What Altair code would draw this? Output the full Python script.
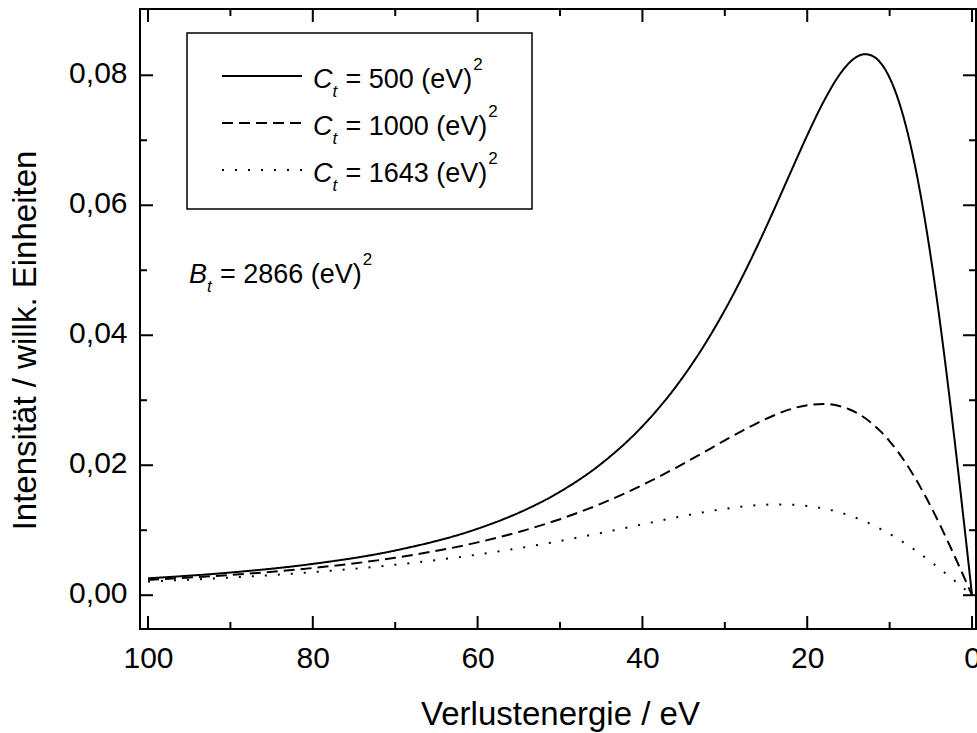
import altair as alt
import pandas as pd

# ---- data ----
energy = [0, 1, 2, 3, 4, 5, 6, 7, 8, 9, 10, 11, 12, 13, 14, 15, 16, 18, 20, 22, 24,
          26, 28, 30, 33, 36, 40, 45, 50, 55, 60, 70, 80, 90, 100]
c500 = [0.0, 0.011418, 0.022565, 0.033186, 0.043056, 0.051991, 0.059855, 0.066562,
        0.072079, 0.076413, 0.079611, 0.081750, 0.082925, 0.083247, 0.082830, 0.081788,
        0.080233, 0.075979, 0.070765, 0.065119, 0.059411, 0.053881, 0.048675, 0.043867,
        0.037458, 0.031986, 0.025995, 0.020229, 0.015922, 0.012686, 0.010230, 0.006880,
        0.004816, 0.003488, 0.002600]
c1000 = [0.0, 0.002860, 0.005686, 0.008445, 0.011106, 0.013639, 0.016022, 0.018232,
         0.020253, 0.022073, 0.023686, 0.025087, 0.026279, 0.027264, 0.028051, 0.028648,
         0.029068, 0.029429, 0.029245, 0.028631, 0.027693, 0.026528, 0.025214, 0.023817,
         0.021673, 0.019572, 0.016959, 0.014094, 0.011698, 0.009730, 0.008127, 0.005763,
         0.004187, 0.003115, 0.002369]
c1643 = [0.0, 0.001060, 0.002113, 0.003150, 0.004165, 0.005151, 0.006100, 0.007008,
         0.007869, 0.008678, 0.009434, 0.010131, 0.010770, 0.011348, 0.011864, 0.012320,
         0.012716, 0.013333, 0.013733, 0.013937, 0.013969, 0.013856, 0.013624, 0.013295,
         0.012672, 0.011945, 0.010900, 0.009586, 0.008349, 0.007234, 0.006256, 0.004686,
         0.003544, 0.002717, 0.002114]
series_names = ["500", "1000", "1643"]
legend_texts = ["= 500 (eV)", "= 1000 (eV)", "= 1643 (eV)"]
annot_text = "= 2866 (eV)"
x_major = [100, 80, 60, 40, 20, 0]
x_minor = [90, 70, 50, 30, 10]
y_major = [0.0, 0.02, 0.04, 0.06, 0.08]
y_minor = [0.01, 0.03, 0.05, 0.07]

# ---- layout ----
W, H = 836, 620
FONT = "Liberation Sans"
FS = 27          # annotation font size
dashes = {"500": [1, 0], "1000": [11, 6], "1643": [2, 11]}

rows = []
for name, vals in zip(series_names, [c500, c1000, c1643]):
    for e, v in zip(energy, vals):
        rows.append({"E": e, "I": v, "s": name})
df = pd.DataFrame(rows)

xscale = alt.Scale(domain=[-0.48, 100.97], reverse=True, nice=False, zero=False)
yscale = alt.Scale(domain=[-0.0052, 0.0902], nice=False, zero=False)

lines = []
for name in series_names:
    lines.append(
        alt.Chart(df[df.s == name]).mark_line(
            color="black", strokeWidth=2, strokeDash=dashes[name], interpolate="monotone"
        ).encode(
            x=alt.X("E:Q", scale=xscale,
                    axis=alt.Axis(values=x_major, title="Verlustenergie / eV", grid=False,
                                  domain=False, ticks=False, tickSize=0,
                                  labelFont=FONT, labelFontSize=30, labelColor="black",
                                  labelBaseline="alphabetic", labelPadding=38,
                                  titleFont=FONT, titleFontSize=33, titleFontWeight="normal",
                                  titleColor="black", titleBaseline="alphabetic",
                                  titleX=420, titleY=95)),
            y=alt.Y("I:Q", scale=yscale,
                    axis=alt.Axis(values=y_major, title="Intensität / willk. Einheiten",
                                  grid=False, domain=False, ticks=False, tickSize=0,
                                  labelExpr="replace(format(datum.value, '.2f'), '.', ',')",
                                  labelFont=FONT, labelFontSize=30, labelColor="black",
                                  labelPadding=13, labelBaseline="middle", labelOffset=-2,
                                  titleFont=FONT, titleFontSize=33, titleFontWeight="normal",
                                  titleColor="black", titleAngle=270,
                                  titleBaseline="alphabetic", titleAlign="center",
                                  titleX=-105, titleY=331)),
        )
    )

# ---- inner ticks on all four sides ----
def xticks(vals, length):
    d = pd.DataFrame({"E": vals})
    bot = alt.Chart(d).mark_rule(color="black", strokeWidth=2).encode(
        x=alt.X("E:Q", scale=xscale), y=alt.value(H), y2=alt.value(H - length))
    top = alt.Chart(d).mark_rule(color="black", strokeWidth=2).encode(
        x=alt.X("E:Q", scale=xscale), y=alt.value(0), y2=alt.value(length))
    return [bot, top]

def yticks(vals, length):
    d = pd.DataFrame({"I": vals})
    left = alt.Chart(d).mark_rule(color="black", strokeWidth=2).encode(
        y=alt.Y("I:Q", scale=yscale), x=alt.value(0), x2=alt.value(length))
    right = alt.Chart(d).mark_rule(color="black", strokeWidth=2).encode(
        y=alt.Y("I:Q", scale=yscale), x=alt.value(W), x2=alt.value(W - length))
    return [left, right]

ticks = xticks(x_major, 13) + xticks(x_minor, 7) + yticks(y_major, 13) + yticks(y_minor, 7)

# ---- legend box (pixel positions inside the plot area) ----
box_df = pd.DataFrame({"a": [0]})
box = alt.Chart(box_df).mark_rect(fill="white", stroke="black", strokeWidth=1.5).encode(
    x=alt.value(47), x2=alt.value(392), y=alt.value(24), y2=alt.value(200))

def rich(prefix, body, x0, base):
    d = pd.DataFrame({"t": [body]})
    w_pre = 0.722 if prefix == "C" else 0.667
    out = [
        alt.Chart(d).mark_text(text=prefix, font=FONT, fontSize=FS, fontStyle="italic",
                               align="left", baseline="alphabetic", color="black").encode(
            x=alt.value(x0), y=alt.value(base)),
        alt.Chart(d).mark_text(text="t", font=FONT, fontSize=17, fontStyle="italic",
                               align="left", baseline="alphabetic", color="black").encode(
            x=alt.value(x0 + w_pre * FS), y=alt.value(base + 9)),
        alt.Chart(d).mark_text(font=FONT, fontSize=FS, align="left",
                               baseline="alphabetic", color="black").encode(
            text="t:N", x=alt.value(x0 + w_pre * FS + 13), y=alt.value(base)),
    ]
    widths = {"=": 0.584, " ": 0.278, "(": 0.333, ")": 0.333, "e": 0.556, "V": 0.667}
    bw = sum(widths.get(ch, 0.556) for ch in body) * FS
    out.append(
        alt.Chart(d).mark_text(text="2", font=FONT, fontSize=17,
                               align="left", baseline="alphabetic", color="black").encode(
            x=alt.value(x0 + w_pre * FS + 13 + bw + 1), y=alt.value(base - 18)))
    return out

row_y = [67, 114, 161]
legend_layers = [box]
for name, txt, ry in zip(series_names, legend_texts, row_y):
    d = pd.DataFrame({"t": [txt]})
    legend_layers.append(
        alt.Chart(d).mark_rule(color="black", strokeWidth=2, strokeDash=dashes[name]).encode(
            x=alt.value(82), x2=alt.value(162), y=alt.value(ry)))
    legend_layers += rich("C", txt, 173, ry + 12)

annot = rich("B", annot_text, 49, 274)

chart = alt.layer(*lines, *ticks, *legend_layers, *annot).properties(
    width=W, height=H,
    autosize=alt.AutoSizeParams(type="none"),
    padding={"left": 140, "top": 9, "right": 1, "bottom": 104},
    background="white",
).configure_view(stroke="black", strokeWidth=2)

chart.save("out.html", embed_options={"renderer": "svg", "actions": False})
